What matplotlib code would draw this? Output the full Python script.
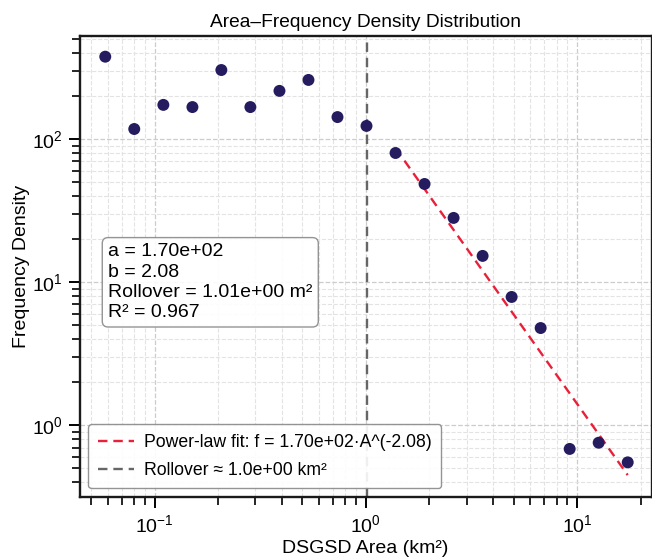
import matplotlib
matplotlib.use("Agg")
import matplotlib.pyplot as plt
import numpy as np

plt.rcParams['font.family'] = ['Liberation Sans', 'DejaVu Sans']
plt.rcParams['mathtext.default'] = 'regular'

# Data
area = [0.0584, 0.0801, 0.110, 0.151, 0.207, 0.284, 0.390, 0.535, 0.734, 1.007,
        1.382, 1.896, 2.602, 3.570, 4.898, 6.721, 9.222, 12.65, 17.36]
density = [378, 118, 174, 168, 305, 168, 218, 260, 143, 124,
           80.2, 48.7, 28.2, 15.3, 7.9, 4.79, 0.684, 0.756, 0.551]
fit_a = 170.0
fit_b = 2.08
rollover = 1.01
r2 = 0.967
fit_start_index = 10

W, H = 652, 560
fig = plt.figure(figsize=(W / 100, H / 100), dpi=100)
left, right, top, bottom = 79.5, 651.5, 35.7, 497.3
ax = fig.add_axes([left / W, 1 - bottom / H, (right - left) / W, (bottom - top) / H])

ax.set_xscale('log')
ax.set_yscale('log')

ax.scatter(area, density, s=74, color='#241c5e', zorder=3, edgecolors='none')

xf = np.array(area[fit_start_index:])
xf = np.geomspace(xf[0], xf[-1], 100)
ax.plot(xf, fit_a * xf ** (-fit_b), color='#e8203a', linestyle='--', linewidth=1.7,
        dashes=(4, 2.5), label=f'Power-law fit: f = {fit_a:.2e}·A^(-{fit_b:.2f})', zorder=2)
ax.axvline(rollover, color='#666666', linestyle='--', linewidth=1.7, dashes=(4, 2.5),
           label=f'Rollover ≈ {rollover:.1e} km²', zorder=2)

ax.set_xlim(0.0441, 22.5)
ax.set_ylim(0.314, 530)

ax.grid(True, which='major', color='#cccccc', linestyle='--', linewidth=0.9)
ax.grid(True, which='minor', color='#e3e3e3', linestyle='--', linewidth=0.8)
ax.set_axisbelow(True)

for s in ax.spines.values():
    s.set_linewidth(1.7)
    s.set_color('#1a1a1a')

ax.tick_params(which='major', direction='out', length=8, width=1.4, labelsize=14, pad=4)
ax.tick_params(which='minor', direction='out', length=5.5, width=1.2)

ax.set_title('Area–Frequency Density Distribution', fontsize=13.8, pad=6)
ax.set_xlabel('DSGSD Area (km²)', fontsize=14, labelpad=3)
ax.set_ylabel('Frequency Density', fontsize=14, labelpad=1.5)

txt = (f'a = {fit_a:.2e}\n'
       f'b = {fit_b:.2f}\n'
       f'Rollover = {rollover:.2e} m²\n'
       f'R² = {r2:.3f}')
ax.text(0.05, 0.55, txt, transform=ax.transAxes, fontsize=14, va='top', ha='left',
        linespacing=1.25,
        bbox=dict(boxstyle='round,pad=0.3', facecolor='white', edgecolor='#888888',
                  alpha=0.9, linewidth=1.0))

leg = ax.legend(loc='lower left', fontsize=12.7, frameon=True, fancybox=True,
                edgecolor='#888888', framealpha=0.9, borderaxespad=0.5,
                handlelength=2.05, handletextpad=0.55, borderpad=0.55, labelspacing=0.6)

fig.savefig('out.png', dpi=100)
